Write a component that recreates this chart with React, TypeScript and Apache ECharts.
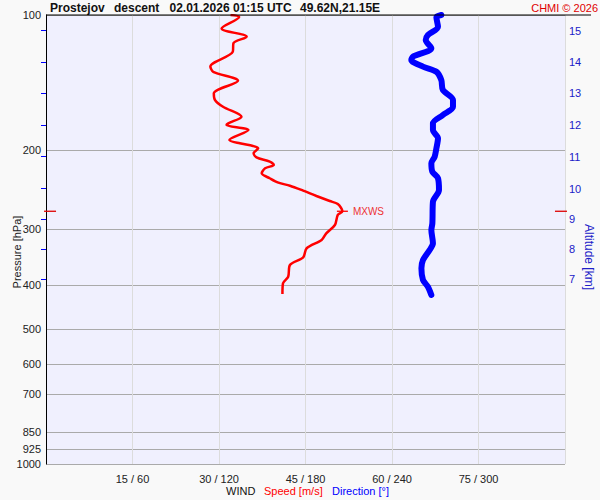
import React, { useEffect, useRef } from "react";
import * as echarts from "echarts";

// Wind speed profile [m/s] vs pressure [hPa]
const speedPressure = [100, 101.0, 107.1, 111.8, 115.6, 120.7, 130.3, 133.8, 140.1, 149.4, 154.6, 160.1, 168.5, 174.3, 175.8, 180.4, 189.8, 193.1, 195.8, 198.1, 203.2, 207.5, 212.2, 215.8, 219.5, 225.2, 231.0, 236.3, 240.0, 246.2, 253.0, 259.6, 263.6, 273.6, 278.8, 293.6, 306.4, 317.0, 330.8, 346.4, 360.5, 382.8, 396.0, 418.1];
const speedValues = [32.0, 33.5, 30.45, 34.8, 32.5, 32.4, 28.5, 29.0, 33.3, 29.1, 29.3, 30.7, 33.9, 31.6, 31.3, 35.1, 31.8, 33.6, 35.9, 36.8, 36.0, 36.5, 38.8, 39.5, 38.0, 37.4, 38.8, 40.3, 42.3, 44.6, 46.9, 49.2, 50.6, 51.4, 50.6, 50.1, 48.6, 47.8, 45.2, 44.6, 42.3, 42.0, 41.1, 41.0];

// Wind direction profile [deg] vs pressure [hPa]
const dirPressure = [100, 101.2, 106.2, 110.8, 113.7, 118.6, 123.8, 125.9, 130.3, 133.8, 139.6, 146.9, 154.6, 160.1, 167.0, 174.3, 180.4, 188.2, 198.1, 206.8, 213.9, 223.4, 231.0, 245.3, 260.5, 291.0, 301.2, 322.4, 333.7, 351.4, 366.6, 389.3, 402.9, 420.3];
const dirValues = [274.2, 270.8, 271.9, 264.9, 263.4, 267.3, 254.6, 253.4, 261.5, 270.8, 274.2, 275.3, 282.3, 282.3, 275.3, 268.4, 268.4, 271.9, 270.8, 269.6, 267.3, 268.0, 271.9, 272.6, 268.4, 268.0, 267.3, 268.4, 266.1, 261.5, 260.4, 261.5, 264.9, 267.3];

// Max wind (MXWS)
const mxwsSpeed = 51.4;
const mxwsPressure = 273.6;

// Axis ticks
const pressureTicks = [100, 200, 300, 400, 500, 600, 700, 850, 925, 1000];
const pressureTickLabels = ["100", "200", "300", "400", "500", "600", "700", "850", "925", "1000"];
const speedTicks = [15, 30, 45, 60, 75];
const speedTickLabels = ["15 / 60", "30 / 120", "45 / 180", "60 / 240", "75 / 300"];
const altitudeKm = [15, 14, 13, 12, 11, 10, 9, 8, 7];
const altitudePressure = [108.4, 127.2, 149.4, 175.8, 206.8, 243.7, 285.1, 332.5, 387.9];

const FONT = "'Liberation Sans', Arial, sans-serif";

const nearestIndex = (arr: number[], v: number) => {
  let best = -1, bd = 1e9;
  arr.forEach((p, i) => { const d = Math.abs(p - v); if (d < bd) { bd = d; best = i; } });
  return bd < 1 ? best : -1;
};

export default function App() {
  const ref = useRef<HTMLDivElement>(null);
  useEffect(() => {
    if (!ref.current) return;
    const chart = echarts.init(ref.current, undefined, { renderer: "svg" });
    const speedData = speedValues.map((v, i) => [v, speedPressure[i]]);
    const dirData = dirValues.map((v, i) => [v, dirPressure[i]]);
    const option: any = {
      animation: false,
      backgroundColor: "#f9f9f9",
      textStyle: { fontFamily: FONT },
      grid: { left: 46, right: 35, top: 15, bottom: 36, show: true, backgroundColor: "#f0f0fe", borderWidth: 0 },
      xAxis: [
        {
          type: "value", min: 0, max: 90, interval: 15, position: "bottom",
          axisLine: { show: false }, axisTick: { show: false },
          axisLabel: {
            color: "#222", fontSize: 11, fontFamily: FONT, margin: 9,
            formatter: (v: number) => {
              const i = speedTicks.indexOf(v);
              return i >= 0 ? speedTickLabels[i] : "";
            },
          },
          splitLine: { show: true, lineStyle: { color: "#dcdcdc", width: 1 } },
        },
        { type: "value", min: 0, max: 360, show: false },
      ],
      yAxis: [
        {
          type: "log", logBase: 10, min: 100, max: 1000, inverse: true, position: "left",
          axisLine: { show: true, onZero: false, lineStyle: { color: "#000", width: 1 } },
          axisTick: { show: false, customValues: pressureTicks },
          axisLabel: {
            customValues: pressureTicks, color: "#222", fontSize: 11, fontFamily: FONT, margin: 5,
            formatter: (v: number) => {
              const i = nearestIndex(pressureTicks, v);
              return i >= 0 ? pressureTickLabels[i] : "";
            },
          },
          splitLine: { show: true, lineStyle: { color: "#aaaaaa", width: 1 } },
        },
        {
          type: "log", logBase: 10, min: 100, max: 1000, inverse: true, position: "right",
          axisLine: { show: false },
          axisTick: { show: true, inside: true, length: 5, customValues: altitudePressure, lineStyle: { color: "#0000ff", width: 1 } },
          axisLabel: {
            customValues: altitudePressure, color: "#2020c8", fontSize: 11, fontFamily: FONT, margin: 4,
            formatter: (v: number) => {
              const i = nearestIndex(altitudePressure, v);
              return i >= 0 ? String(altitudeKm[i]) : "";
            },
          },
          splitLine: { show: false },
        },
      ],
      series: [
        {
          type: "line", name: "Speed", xAxisIndex: 0, yAxisIndex: 0, data: speedData,
          showSymbol: false, smooth: 0.3, lineStyle: { color: "#ff0000", width: 2.5 }, z: 3,
          markPoint: {
            symbol: "rect", silent: true,
            data: [
              { coord: [mxwsSpeed, mxwsPressure], symbolSize: [11, 1.3], itemStyle: { color: "#ff0000" },
                label: { show: true, formatter: "MXWS", position: "right", distance: 5, color: "#ee3333", fontSize: 10, fontFamily: FONT } },
              { coord: [0.7, mxwsPressure], symbolSize: [12, 1.3], itemStyle: { color: "#dd0000" }, label: { show: false } },
              { coord: [89.3, mxwsPressure], symbolSize: [12, 1.3], itemStyle: { color: "#dd0000" }, label: { show: false } },
            ],
          },
        },
        {
          type: "line", name: "Direction", xAxisIndex: 1, yAxisIndex: 0, data: dirData,
          showSymbol: false, smooth: 0.3, lineStyle: { color: "#0000ff", width: 6, cap: "round", join: "round" }, z: 2,
        },
      ],
      graphic: [
        { type: "line", shape: { x1: 46, y1: 15, x2: 591, y2: 15 }, style: { stroke: "#000", lineWidth: 1 }, z: 100 },
        { type: "text", x: 50, y: 8, style: { text: "Prostejov", font: `bold 12px ${FONT}`, fill: "#111", verticalAlign: "middle" } },
        { type: "text", x: 114, y: 8, style: { text: "descent", font: `bold 12px ${FONT}`, fill: "#111", verticalAlign: "middle" } },
        { type: "text", x: 169.5, y: 8, style: { text: "02.01.2026 01:15 UTC", font: `bold 12px ${FONT}`, fill: "#111", verticalAlign: "middle" } },
        { type: "text", x: 300, y: 8, style: { text: "49.62N,21.15E", font: `bold 12px ${FONT}`, fill: "#111", verticalAlign: "middle" } },
        { type: "text", x: 598, y: 8, style: { text: "CHMI © 2026", font: `11px ${FONT}`, fill: "#e00000", align: "right", verticalAlign: "middle" } },
        { type: "text", x: 17, y: 252, rotation: Math.PI / 2, style: { text: "Pressure [hPa]", font: `11px ${FONT}`, fill: "#222", align: "center", verticalAlign: "middle" } },
        { type: "text", x: 589, y: 257, rotation: -Math.PI / 2, style: { text: "Altitude [km]", font: `12px ${FONT}`, fill: "#2020c8", align: "center", verticalAlign: "middle" } },
        { type: "text", x: 226, y: 491, style: { text: "WIND", font: `11px ${FONT}`, fill: "#111", verticalAlign: "middle" } },
        { type: "text", x: 264, y: 491, style: { text: "Speed [m/s]", font: `11px ${FONT}`, fill: "#ff0000", verticalAlign: "middle" } },
        { type: "text", x: 332, y: 491, style: { text: "Direction [°]", font: `11px ${FONT}`, fill: "#0000ff", verticalAlign: "middle" } },
      ],
    };
    chart.setOption(option);
    return () => chart.dispose();
  }, []);
  return <div ref={ref} style={{ position: "absolute", left: 0, top: 0, width: 600, height: 500 }} />;
}
